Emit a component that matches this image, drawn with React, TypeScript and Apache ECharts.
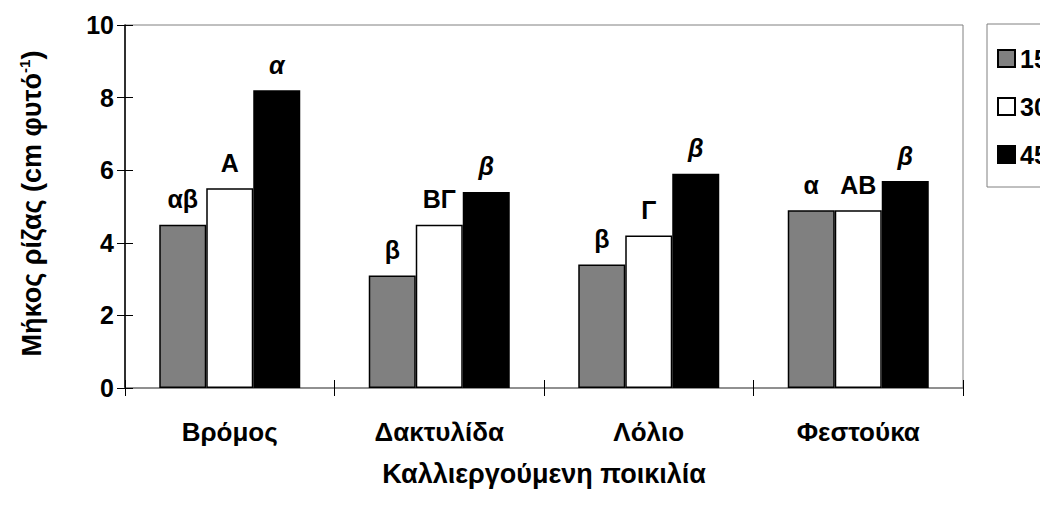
import React, { useEffect, useRef } from "react";
import * as echarts from "echarts";

const categories = ["Βρόμος", "Δακτυλίδα", "Λόλιο", "Φεστούκα"];
const seriesNames = ["15", "30", "45"];
const values15 = [4.5, 3.1, 3.4, 4.9];
const values30 = [5.5, 4.5, 4.2, 4.9];
const values45 = [8.2, 5.4, 5.9, 5.7];
const labels15 = ["αβ", "β", "β", "α"];
const labels30 = ["Α", "ΒΓ", "Γ", "ΑΒ"];
const labels45 = ["α", "β", "β", "β"];
const yTicks = [0, 2, 4, 6, 8, 10];

const FONT = "'Liberation Sans', Arial, sans-serif";

export default function App() {
  const ref = useRef<HTMLDivElement>(null);
  useEffect(() => {
    if (!ref.current) return;
    const chart = echarts.init(ref.current, undefined, { renderer: "svg" });
    const colors = ["#808080", "#ffffff", "#000000"];
    const vals = [values15, values30, values45];
    const labs = [labels15, labels30, labels45];
    const series = seriesNames.map((name, i) => ({
      name,
      type: "bar",
      xAxisIndex: 0,
      yAxisIndex: 0,
      barWidth: 47,
      barGap: "0%",
      data: vals[i],
      itemStyle: { color: colors[i], borderColor: "#000", borderWidth: 1.5 },
      label: {
        show: true,
        position: "top",
        distance: 13,
        formatter: (p: any) => labs[i][p.dataIndex],
        fontFamily: FONT,
        fontSize: 25,
        fontWeight: "bold",
        fontStyle: i === 2 ? "italic" : "normal",
        color: "#000",
      },
    }));
    chart.setOption({
      animation: false,
      backgroundColor: "#fff",
      grid: {
        left: 125,
        right: 85,
        top: 25,
        bottom: 118,
        show: true,
        borderColor: "#808080",
        borderWidth: 1,
      },
      legend: {
        orient: "vertical",
        left: 987,
        top: 24,
        data: seriesNames,
        icon: "rect",
        itemWidth: 17,
        itemHeight: 17,
        itemGap: 23,
        padding: [22, 40, 20, 10],
        borderColor: "#808080",
        borderWidth: 1,
        itemStyle: { borderColor: "#000", borderWidth: 2 },
        textStyle: { fontFamily: FONT, fontSize: 25, fontWeight: "bold", color: "#000" },
      },
      xAxis: [
        {
          type: "category",
          data: categories,
          position: "bottom",
          axisLine: { show: true, lineStyle: { color: "#808080", width: 1.5 } },
          axisTick: { show: true, length: 8, lineStyle: { color: "#000" } },
          axisLabel: {
            fontFamily: FONT,
            fontSize: 26,
            fontWeight: "bold",
            color: "#000",
            margin: 31,
          },
          name: "Καλλιεργούμενη ποικιλία",
          nameLocation: "middle",
          nameGap: 72,
          nameTextStyle: { fontFamily: FONT, fontSize: 27, fontWeight: "bold", color: "#000" },
        },
        {
          type: "category",
          data: categories,
          position: "bottom",
          axisLine: { show: false },
          axisTick: { show: true, inside: true, length: 8, lineStyle: { color: "#000" } },
          axisLabel: { show: false },
        },
      ],
      yAxis: [
        {
          type: "value",
          min: 0,
          max: 10,
          interval: 2,
          position: "left",
          splitLine: { show: false },
          axisLine: { show: true, lineStyle: { color: "#000", width: 1.5 } },
          axisTick: { show: true, length: 8, lineStyle: { color: "#000" } },
          axisLabel: {
            fontFamily: FONT,
            fontSize: 25,
            fontWeight: "bold",
            color: "#000",
            margin: 11,
            formatter: (v: number) => (yTicks.includes(v) ? String(v) : ""),
          },
          name: "Μήκος ρίζας (cm φυτό{sup|-1})",
          nameLocation: "middle",
          nameRotate: 90,
          nameGap: 78,
          nameTextStyle: {
            fontFamily: FONT,
            fontSize: 27,
            fontWeight: "bold",
            color: "#000",
            lineHeight: 30,
            padding: [0, 0, 0, 6],
            rich: {
              sup: {
                fontFamily: FONT,
                fontSize: 15,
                fontWeight: "bold",
                color: "#000",
                lineHeight: 16,
                verticalAlign: "top",
              },
            },
          },
        },
        {
          type: "value",
          min: 0,
          max: 10,
          interval: 2,
          position: "left",
          splitLine: { show: false },
          axisLine: { show: false },
          axisTick: { show: true, inside: true, length: 8, lineStyle: { color: "#000" } },
          axisLabel: { show: false },
        },
      ],
      series,
    });
    return () => chart.dispose();
  }, []);
  return <div ref={ref} style={{ width: 1048, height: 506, margin: -8 }} />;
}
